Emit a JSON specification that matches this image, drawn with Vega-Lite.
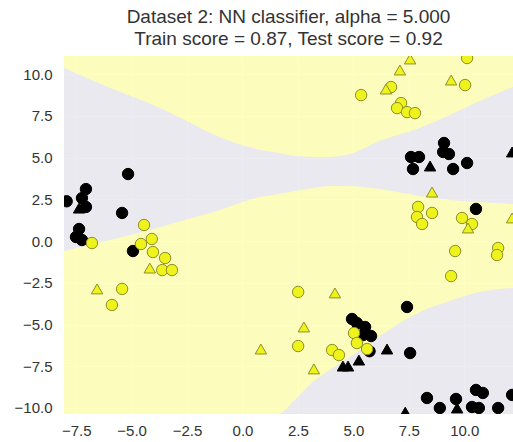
{
  "$schema": "https://vega.github.io/schema/vega-lite/v6.json",
  "autosize": {"type": "none"},
  "padding": {"left": 64, "top": 56, "right": 0, "bottom": 28},
  "width": 449,
  "height": 358,
  "background": "white",
  "title": {
    "text": ["Dataset 2: NN classifier, alpha = 5.000", "Train score = 0.87, Test score = 0.92"],
    "font": "Liberation Sans",
    "fontSize": 19,
    "fontWeight": "normal",
    "color": "#333333",
    "lineHeight": 22,
    "offset": 7,
    "anchor": "middle",
    "frame": "group"
  },
  "config": {
    "view": {"fill": "#eaeaf2", "stroke": null},
    "axis": {
      "grid": true,
      "gridColor": "#ffffff",
      "gridWidth": 1,
      "domain": false,
      "ticks": false,
      "labelFont": "Liberation Sans",
      "labelFontSize": 15,
      "labelColor": "#333333",
      "title": null
    }
  },
  "datasets": {
    "boundary": [
      {"x": -8.05, "upper": 10.36, "lower": -0.6, "bottom": -10.36},
      {"x": -5.98, "upper": 9.16, "lower": 0.06, "bottom": -10.36},
      {"x": -4.04, "upper": 8.14, "lower": 0.72, "bottom": -10.36},
      {"x": -2.6, "upper": 7.25, "lower": 1.26, "bottom": -10.36},
      {"x": -1.46, "upper": 6.47, "lower": 1.68, "bottom": -10.36},
      {"x": 0.79, "upper": 5.45, "lower": 2.63, "bottom": -10.36},
      {"x": 1.61, "upper": 5.27, "lower": 2.81, "bottom": -10.36},
      {"x": 2.37, "upper": 5.09, "lower": 2.99, "bottom": -9.52},
      {"x": 3.18, "upper": 5.03, "lower": 3.17, "bottom": -8.44},
      {"x": 3.95, "upper": 5.03, "lower": 3.29, "bottom": -7.72},
      {"x": 4.71, "upper": 5.15, "lower": 3.29, "bottom": -7.07},
      {"x": 6.2, "upper": 5.99, "lower": 3.11, "bottom": -5.69},
      {"x": 8.01, "upper": 6.77, "lower": 2.69, "bottom": -4.25},
      {"x": 9.36, "upper": 7.54, "lower": 2.46, "bottom": -3.59},
      {"x": 10.71, "upper": 8.38, "lower": 2.34, "bottom": -3.05},
      {"x": 12.2, "upper": 9.22, "lower": 2.22, "bottom": -2.81}
    ],
    "points": [
      {"x": -5.16, "y": 4.01, "cls": "0", "set": "train"},
      {"x": -7.06, "y": 3.11, "cls": "0", "set": "train"},
      {"x": -7.24, "y": 2.57, "cls": "0", "set": "train"},
      {"x": -7.93, "y": 2.38, "cls": "0", "set": "train"},
      {"x": -7.06, "y": 2.04, "cls": "0", "set": "train"},
      {"x": -5.43, "y": 1.68, "cls": "0", "set": "train"},
      {"x": -7.37, "y": 0.72, "cls": "0", "set": "train"},
      {"x": -7.51, "y": 0.24, "cls": "0", "set": "train"},
      {"x": -7.24, "y": 0.06, "cls": "0", "set": "train"},
      {"x": -4.94, "y": -0.60, "cls": "0", "set": "train"},
      {"x": 9.09, "y": 5.87, "cls": "0", "set": "train"},
      {"x": 9.05, "y": 5.33, "cls": "0", "set": "train"},
      {"x": 9.31, "y": 5.21, "cls": "0", "set": "train"},
      {"x": 7.60, "y": 5.03, "cls": "0", "set": "train"},
      {"x": 7.96, "y": 5.03, "cls": "0", "set": "train"},
      {"x": 7.69, "y": 4.31, "cls": "0", "set": "train"},
      {"x": 9.50, "y": 4.31, "cls": "0", "set": "train"},
      {"x": 10.13, "y": 4.67, "cls": "0", "set": "train"},
      {"x": 10.53, "y": 1.92, "cls": "0", "set": "train"},
      {"x": 7.42, "y": -3.95, "cls": "0", "set": "train"},
      {"x": 7.56, "y": -6.71, "cls": "0", "set": "train"},
      {"x": 4.94, "y": -4.67, "cls": "0", "set": "train"},
      {"x": 5.16, "y": -4.91, "cls": "0", "set": "train"},
      {"x": 5.53, "y": -5.15, "cls": "0", "set": "train"},
      {"x": 5.80, "y": -5.69, "cls": "0", "set": "train"},
      {"x": 5.44, "y": -5.63, "cls": "0", "set": "train"},
      {"x": 5.73, "y": -6.60, "cls": "0", "set": "train"},
      {"x": 8.32, "y": -9.40, "cls": "0", "set": "train"},
      {"x": 8.90, "y": -10.0, "cls": "0", "set": "train"},
      {"x": 9.63, "y": -9.46, "cls": "0", "set": "train"},
      {"x": 10.35, "y": -9.94, "cls": "0", "set": "train"},
      {"x": 10.66, "y": -10.0, "cls": "0", "set": "train"},
      {"x": 10.53, "y": -8.92, "cls": "0", "set": "train"},
      {"x": 10.84, "y": -9.10, "cls": "0", "set": "train"},
      {"x": 11.53, "y": -10.0, "cls": "0", "set": "train"},
      {"x": 12.16, "y": -9.22, "cls": "0", "set": "train"},
      {"x": -6.79, "y": -0.12, "cls": "1", "set": "train"},
      {"x": -4.44, "y": 0.96, "cls": "1", "set": "train"},
      {"x": -4.09, "y": 0.12, "cls": "1", "set": "train"},
      {"x": -4.58, "y": -0.18, "cls": "1", "set": "train"},
      {"x": -4.04, "y": -0.66, "cls": "1", "set": "train"},
      {"x": -3.49, "y": -1.02, "cls": "1", "set": "train"},
      {"x": -3.62, "y": -1.74, "cls": "1", "set": "train"},
      {"x": -3.18, "y": -1.74, "cls": "1", "set": "train"},
      {"x": -5.43, "y": -2.87, "cls": "1", "set": "train"},
      {"x": -5.89, "y": -3.83, "cls": "1", "set": "train"},
      {"x": 2.51, "y": -3.05, "cls": "1", "set": "train"},
      {"x": 2.51, "y": -6.29, "cls": "1", "set": "train"},
      {"x": 4.04, "y": -6.53, "cls": "1", "set": "train"},
      {"x": 4.35, "y": -6.83, "cls": "1", "set": "train"},
      {"x": 5.03, "y": -5.51, "cls": "1", "set": "train"},
      {"x": 5.16, "y": -6.11, "cls": "1", "set": "train"},
      {"x": 5.62, "y": -6.47, "cls": "1", "set": "train"},
      {"x": 10.13, "y": 10.96, "cls": "1", "set": "train"},
      {"x": 10.04, "y": 9.34, "cls": "1", "set": "train"},
      {"x": 5.35, "y": 8.74, "cls": "1", "set": "train"},
      {"x": 6.70, "y": 9.22, "cls": "1", "set": "train"},
      {"x": 7.15, "y": 8.26, "cls": "1", "set": "train"},
      {"x": 6.97, "y": 7.96, "cls": "1", "set": "train"},
      {"x": 7.42, "y": 7.72, "cls": "1", "set": "train"},
      {"x": 7.78, "y": 7.66, "cls": "1", "set": "train"},
      {"x": 7.92, "y": 2.04, "cls": "1", "set": "train"},
      {"x": 7.87, "y": 1.44, "cls": "1", "set": "train"},
      {"x": 8.10, "y": 1.02, "cls": "1", "set": "train"},
      {"x": 8.55, "y": 1.68, "cls": "1", "set": "train"},
      {"x": 9.90, "y": 1.38, "cls": "1", "set": "train"},
      {"x": 10.35, "y": 1.02, "cls": "1", "set": "train"},
      {"x": 11.53, "y": -0.42, "cls": "1", "set": "train"},
      {"x": 11.48, "y": -0.84, "cls": "1", "set": "train"},
      {"x": 9.59, "y": -0.60, "cls": "1", "set": "train"},
      {"x": 9.41, "y": -2.10, "cls": "1", "set": "train"},
      {"x": -7.37, "y": 1.97, "cls": "0", "set": "test"},
      {"x": 8.46, "y": 4.49, "cls": "0", "set": "test"},
      {"x": 12.16, "y": 5.33, "cls": "0", "set": "test"},
      {"x": 6.52, "y": -6.47, "cls": "0", "set": "test"},
      {"x": 5.25, "y": -7.13, "cls": "0", "set": "test"},
      {"x": 4.53, "y": -7.49, "cls": "0", "set": "test"},
      {"x": 4.76, "y": -7.49, "cls": "0", "set": "test"},
      {"x": 9.68, "y": -10.0, "cls": "0", "set": "test"},
      {"x": 7.34, "y": -10.25, "cls": "0", "set": "test"},
      {"x": -4.18, "y": -1.62, "cls": "1", "set": "test"},
      {"x": -6.56, "y": -2.87, "cls": "1", "set": "test"},
      {"x": 0.83, "y": -6.47, "cls": "1", "set": "test"},
      {"x": 4.17, "y": -3.11, "cls": "1", "set": "test"},
      {"x": 2.77, "y": -5.15, "cls": "1", "set": "test"},
      {"x": 3.22, "y": -7.66, "cls": "1", "set": "test"},
      {"x": 7.56, "y": 10.90, "cls": "1", "set": "test"},
      {"x": 7.10, "y": 10.24, "cls": "1", "set": "test"},
      {"x": 9.41, "y": 9.64, "cls": "1", "set": "test"},
      {"x": 6.47, "y": 9.10, "cls": "1", "set": "test"},
      {"x": 8.55, "y": 2.93, "cls": "1", "set": "test"},
      {"x": 10.17, "y": 0.78, "cls": "1", "set": "test"},
      {"x": 12.16, "y": 1.38, "cls": "1", "set": "test"}
    ]
  },
  "layer": [
    {
      "data": {"name": "boundary"},
      "mark": {"type": "area", "interpolate": "monotone", "color": "#ffffb3", "opacity": 0.85, "clip": true},
      "encoding": {
        "x": {"field": "x", "type": "quantitative", "scale": {"domain": [-8.05, 12.2], "nice": false, "zero": false},
              "axis": {"values": [-7.5, -5, -2.5, 0, 2.5, 5, 7.5, 10], "format": ".1f", "labelPadding": 9}},
        "y": {"field": "upper", "type": "quantitative", "stack": null, "scale": {"domain": [-10.36, 11.08], "nice": false, "zero": false},
              "axis": {"values": [-10, -7.5, -5, -2.5, 0, 2.5, 5, 7.5, 10], "format": ".1f", "labelPadding": 12}},
        "y2": {"datum": 11.08}
      }
    },
    {
      "data": {"name": "boundary"},
      "mark": {"type": "area", "interpolate": "monotone", "color": "#e8e8ee", "opacity": 0.8, "clip": true},
      "encoding": {
        "x": {"field": "x", "type": "quantitative"},
        "y": {"field": "upper", "type": "quantitative", "stack": null},
        "y2": {"field": "lower"}
      }
    },
    {
      "data": {"name": "boundary"},
      "mark": {"type": "area", "interpolate": "monotone", "color": "#ffffb3", "opacity": 0.85, "clip": true},
      "encoding": {
        "x": {"field": "x", "type": "quantitative"},
        "y": {"field": "lower", "type": "quantitative", "stack": null},
        "y2": {"field": "bottom"}
      }
    },
    {
      "data": {"name": "boundary"},
      "mark": {"type": "area", "interpolate": "monotone", "color": "#e8e8ee", "opacity": 0.8, "clip": true},
      "encoding": {
        "x": {"field": "x", "type": "quantitative"},
        "y": {"field": "bottom", "type": "quantitative", "stack": null},
        "y2": {"datum": -10.36}
      }
    },
    {
      "data": {"name": "points"},
      "mark": {"type": "point", "filled": true, "strokeWidth": 1, "opacity": 1, "clip": true},
      "encoding": {
        "x": {"field": "x", "type": "quantitative"},
        "y": {"field": "y", "type": "quantitative"},
        "shape": {"field": "set", "type": "nominal", "scale": {"domain": ["train", "test"], "range": ["circle", "triangle-up"]}, "legend": null},
        "fill": {"field": "cls", "type": "nominal", "scale": {"domain": ["0", "1"], "range": ["#000000", "#eef31c"]}, "legend": null},
        "stroke": {"field": "cls", "type": "nominal", "scale": {"domain": ["0", "1"], "range": ["#000000", "#8f8f2a"]}, "legend": null},
        "size": {"field": "set", "type": "nominal", "scale": {"domain": ["train", "test"], "range": [130, 130]}, "legend": null}
      }
    }
  ]
}
